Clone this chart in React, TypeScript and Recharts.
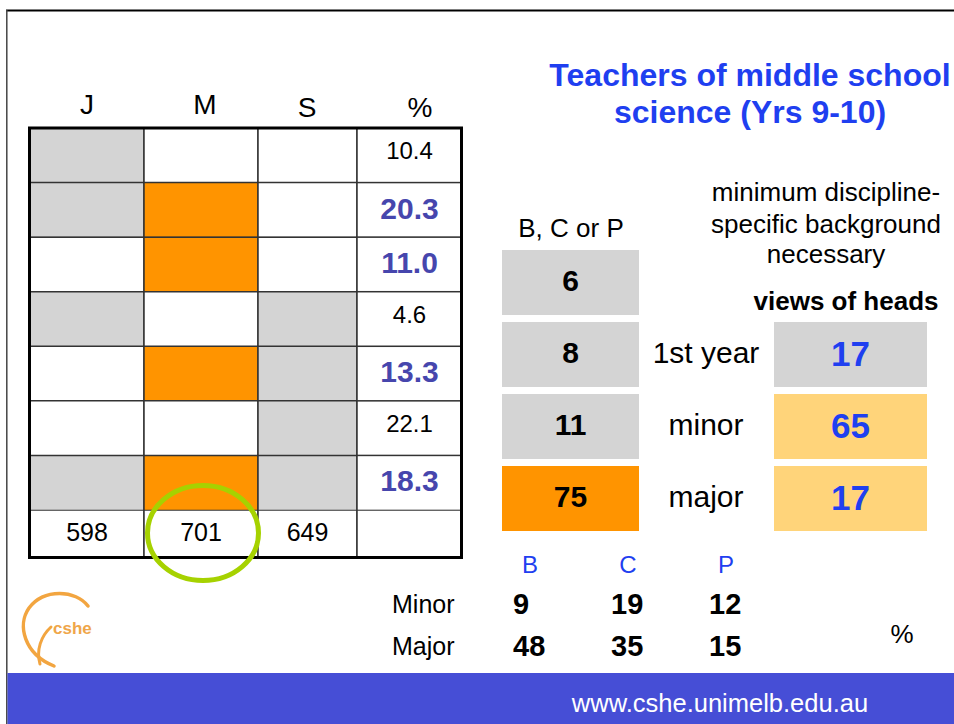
import React from 'react';
import { BarChart, Bar, XAxis, YAxis, Cell, LabelList, ScatterChart, Scatter } from 'recharts';

const FONT = '"Liberation Sans", Arial, Helvetica, sans-serif';
const BLUE = '#1f3ff0';
const PURPLE = '#4646ad';
const GREY = '#d4d4d4';
const ORANGE = '#ff9400';
const PALE = '#ffd47a';
const LINE = '#333';

// left table: which cells are shaded in each row
const COLUMNS = ['J', 'M', 'S', '%'];
const J_SHADED = [true, true, false, true, false, false, true];
const M_SHADED = [false, true, true, false, true, false, true];
const S_SHADED = [false, false, false, true, true, true, true];
const PCT = ['10.4', '20.3', '11.0', '4.6', '13.3', '22.1', '18.3'];
const TOTALS = ['598', '701', '649'];

// B, C or P boxes and heads' views
const BCP_VALUES = [6, 8, 11, 75];
const BCP_FILLS = [GREY, GREY, GREY, ORANGE];
const LEVELS = ['1st year', 'minor', 'major'];
const HEADS = [17, 65, 17];
const HEADS_FILLS = [GREY, PALE, PALE];

// minor / major by subject
const SUBJECTS = ['B', 'C', 'P'];
const MINOR = [9, 19, 12];
const MAJOR = [48, 35, 15];

// layout
const COL_W = [114, 114, 99, 105];
const HEADER_X = [87, 205, 307, 420];
const HEADER_Y = [114, 114, 117, 117];

const boxOf = (p: any) => {
  const v = p.viewBox || p;
  return { x: v.x, y: v.y, w: v.width, h: v.height };
};

const PctCell = (props: any) => {
  const { x, y, width, height, payload } = props;
  const hi = payload.hi;
  const fs = hi ? 30 : 24;
  return (
    <g>
      <rect x={x} y={y} width={width} height={height} fill="#fff" stroke={LINE} strokeWidth={1.5} />
      <text
        x={x + width / 2}
        y={y + height / 2 + (hi ? 8.5 : 3.5)}
        textAnchor="middle"
        fontSize={fs}
        fontWeight={hi ? 'bold' : 'normal'}
        fill={hi ? PURPLE : '#000'}
        fontFamily={FONT}
      >
        {payload.pct}
      </text>
    </g>
  );
};

const centerText = (fs: number, fill: string, weight: string, shift = 0) => (p: any) => {
  const b = boxOf(p);
  return (
    <text
      x={b.x + b.w / 2}
      y={b.y + b.h / 2 + fs * 0.36 + shift}
      textAnchor="middle"
      fontSize={fs}
      fontWeight={weight}
      fill={fill}
      fontFamily={FONT}
    >
      {p.value}
    </text>
  );
};

const LevelTick = ({ y, payload }: any) => (
  <text x={68} y={y + 9} textAnchor="middle" fontSize={30} fontFamily={FONT} fill="#000">
    {payload.value}
  </text>
);

const SubjectTick = ({ x, payload }: any) => (
  <text x={x} y={25} textAnchor="middle" fontSize={24} fontFamily={FONT} fill={BLUE}>
    {payload.value}
  </text>
);

const RowTick = ({ y, payload }: any) => (
  <text x={11} y={y + 9} textAnchor="start" fontSize={25} fontFamily={FONT} fill="#000">
    {payload.value}
  </text>
);

const ValueMark = ({ cx, cy, payload }: any) => (
  <text x={cx - 17} y={cy + 10} fontSize={29} fontWeight="bold" fontFamily={FONT} fill="#000">
    {payload.v}
  </text>
);

const abs = (left: number, top: number): React.CSSProperties => ({ position: 'absolute', left, top });

export default function App() {
  const tableW = COL_W.reduce((a, b) => a + b, 0);
  const tableRows = PCT.map((pct, i) => ({
    row: 'r' + i,
    j: COL_W[0],
    m: COL_W[1],
    s: COL_W[2],
    p: COL_W[3],
    pct,
    hi: M_SHADED[i],
  }));
  const totalRow = [
    { row: 'n', j: COL_W[0], m: COL_W[1], s: COL_W[2], p: COL_W[3], jt: TOTALS[0], mt: TOTALS[1], st: TOTALS[2] },
  ];
  const bcpRows = BCP_VALUES.map((v, i) => ({ row: 'b' + i, one: 1, v }));
  const headRows = LEVELS.map((level, i) => ({ level, one: 1, v: HEADS[i] }));
  const points = [
    ...SUBJECTS.map((col, i) => ({ col, row: 'Minor', v: MINOR[i] })),
    ...SUBJECTS.map((col, i) => ({ col, row: 'Major', v: MAJOR[i] })),
  ];

  return (
    <div style={{ position: 'absolute', left: 0, top: 0, width: 954, height: 724, background: '#fff', overflow: 'hidden', fontFamily: FONT }}>
      {/* left table, shaded rows */}
      <div style={abs(29.5, 128)}>
        <BarChart width={tableW} height={382} data={tableRows} layout="vertical" margin={{ top: 0, right: 0, bottom: 0, left: 0 }} barCategoryGap={0} barGap={0}>
          <XAxis type="number" hide domain={[0, tableW]} />
          <YAxis type="category" dataKey="row" hide />
          <Bar dataKey="j" stackId="t" stroke={LINE} strokeWidth={1.5} isAnimationActive={false}>
            {tableRows.map((_, i) => (
              <Cell key={i} fill={J_SHADED[i] ? GREY : '#fff'} />
            ))}
          </Bar>
          <Bar dataKey="m" stackId="t" stroke={LINE} strokeWidth={1.5} isAnimationActive={false}>
            {tableRows.map((_, i) => (
              <Cell key={i} fill={M_SHADED[i] ? ORANGE : '#fff'} />
            ))}
          </Bar>
          <Bar dataKey="s" stackId="t" stroke={LINE} strokeWidth={1.5} isAnimationActive={false}>
            {tableRows.map((_, i) => (
              <Cell key={i} fill={S_SHADED[i] ? GREY : '#fff'} />
            ))}
          </Bar>
          <Bar dataKey="p" stackId="t" shape={PctCell} isAnimationActive={false} />
        </BarChart>
      </div>

      {/* left table, totals row */}
      <div style={abs(29.5, 510)}>
        <BarChart width={tableW} height={47.5} data={totalRow} layout="vertical" margin={{ top: 0, right: 0, bottom: 0, left: 0 }} barCategoryGap={0}>
          <XAxis type="number" hide domain={[0, tableW]} />
          <YAxis type="category" dataKey="row" hide />
          <Bar dataKey="j" stackId="t" fill="#fff" stroke={LINE} strokeWidth={1.5} isAnimationActive={false}>
            <LabelList dataKey="jt" content={centerText(25, '#000', 'normal', -2)} />
          </Bar>
          <Bar dataKey="m" stackId="t" fill="#fff" stroke={LINE} strokeWidth={1.5} isAnimationActive={false}>
            <LabelList dataKey="mt" content={centerText(25, '#000', 'normal', -2)} />
          </Bar>
          <Bar dataKey="s" stackId="t" fill="#fff" stroke={LINE} strokeWidth={1.5} isAnimationActive={false}>
            <LabelList dataKey="st" content={centerText(25, '#000', 'normal', -2)} />
          </Bar>
          <Bar dataKey="p" stackId="t" fill="#fff" stroke={LINE} strokeWidth={1.5} isAnimationActive={false} />
        </BarChart>
      </div>

      {/* B, C or P boxes */}
      <div style={abs(502, 245.5)}>
        <BarChart width={137} height={288} data={bcpRows} layout="vertical" margin={{ top: 0, right: 0, bottom: 0, left: 0 }} barSize={65}>
          <XAxis type="number" hide domain={[0, 1]} />
          <YAxis type="category" dataKey="row" hide />
          <Bar dataKey="one" isAnimationActive={false}>
            {bcpRows.map((_, i) => (
              <Cell key={i} fill={BCP_FILLS[i]} />
            ))}
            <LabelList dataKey="v" content={centerText(30, '#000', 'bold', -2)} />
          </Bar>
        </BarChart>
      </div>

      {/* views of heads */}
      <div style={abs(638, 317.5)}>
        <BarChart width={289} height={216} data={headRows} layout="vertical" margin={{ top: 0, right: 0, bottom: 0, left: 0 }} barSize={65}>
          <XAxis type="number" hide domain={[0, 1]} />
          <YAxis type="category" dataKey="level" width={136} axisLine={false} tickLine={false} tick={LevelTick} />
          <Bar dataKey="one" isAnimationActive={false}>
            {headRows.map((_, i) => (
              <Cell key={i} fill={HEADS_FILLS[i]} />
            ))}
            <LabelList dataKey="v" content={centerText(35, BLUE, 'bold', -1)} />
          </Bar>
        </BarChart>
      </div>

      {/* minor / major by subject */}
      <div style={abs(381, 548)}>
        <ScatterChart width={394} height={119} margin={{ top: 0, right: 0, bottom: 0, left: 0 }}>
          <XAxis type="category" dataKey="col" orientation="top" height={35} allowDuplicatedCategory={false} axisLine={false} tickLine={false} tick={SubjectTick} />
          <YAxis type="category" dataKey="row" width={100} reversed allowDuplicatedCategory={false} axisLine={false} tickLine={false} tick={RowTick} />
          <Scatter data={points} shape={ValueMark} isAnimationActive={false} />
        </ScatterChart>
      </div>

      {/* slide decoration and text */}
      <svg width={954} height={724} style={{ position: 'absolute', left: 0, top: 0, pointerEvents: 'none' }} fontFamily={FONT}>
        <line x1={6} y1={10.5} x2={954} y2={10.5} stroke="#000" strokeWidth={2} />
        <line x1={6.8} y1={10} x2={6.8} y2={724} stroke="#444" strokeWidth={1.5} />
        <rect x={7.5} y={673} width={947} height={51} fill="#464ed6" />
        <text x={720} y={712} textAnchor="middle" fontSize={25.5} fill="#fff">
          www.cshe.unimelb.edu.au
        </text>

        {/* logo */}
        <path d="M 88 606 C 76 590, 44 588, 29 608 C 17 625, 24 654, 54 666" fill="none" stroke="#f2a540" strokeWidth={3.5} strokeLinecap="round" />
        <path d="M 51 627 C 41 636, 36 650, 40 664" fill="none" stroke="#f2a540" strokeWidth={3} strokeLinecap="round" />
        <text x={53} y={634} fontSize={17} fontWeight="bold" fill="#efa64a">
          cshe
        </text>

        {/* title */}
        <text x={750} y={86} textAnchor="middle" fontSize={32} fontWeight="bold" fill={BLUE}>
          Teachers of middle school
        </text>
        <text x={750} y={123} textAnchor="middle" fontSize={32} fontWeight="bold" fill={BLUE}>
          science (Yrs 9-10)
        </text>

        <text x={826} y={200.5} textAnchor="middle" fontSize={26} fill="#000">
          minimum discipline-
        </text>
        <text x={826} y={233} textAnchor="middle" fontSize={26} fill="#000">
          specific background
        </text>
        <text x={826} y={263} textAnchor="middle" fontSize={26} fill="#000">
          necessary
        </text>
        <text x={846} y={310} textAnchor="middle" fontSize={26} fontWeight="bold" fill="#000">
          views of heads
        </text>
        <text x={571} y={237} textAnchor="middle" fontSize={26} fill="#000">
          B, C or P
        </text>
        <text x={902} y={643} textAnchor="middle" fontSize={26} fill="#000">
          %
        </text>

        {/* table header and frame */}
        {COLUMNS.map((c, i) => (
          <text key={c} x={HEADER_X[i]} y={HEADER_Y[i]} textAnchor="middle" fontSize={28} fill="#000">
            {c}
          </text>
        ))}
        <rect x={29.5} y={128} width={tableW} height={429.5} fill="none" stroke="#000" strokeWidth={3} />

        {/* highlight */}
        <ellipse cx={203} cy={533} rx={55.5} ry={47.5} fill="none" stroke="#a6d200" strokeWidth={5} />
      </svg>
    </div>
  );
}
